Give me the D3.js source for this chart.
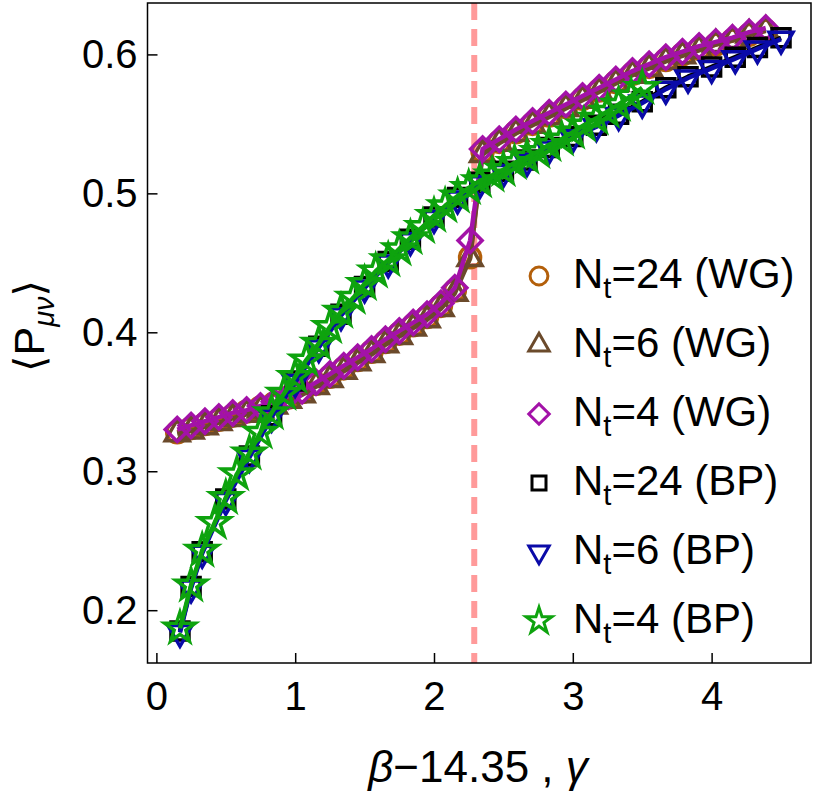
<!DOCTYPE html>
<html>
<head>
<meta charset="utf-8">
<script src="https://cdn.jsdelivr.net/npm/d3@7"></script>
<style>
  body { margin: 0; background: #fff; }
  svg text { font-family: "Liberation Sans", Arial, sans-serif; fill: #000; }
</style>
</head>
<body>
<svg id="chart" width="813" height="797"></svg>
<script>
// ---- data ----
const wgX = [0.15, 0.25, 0.35, 0.45, 0.55, 0.65, 0.75, 0.85, 0.95, 1.05, 1.15, 1.25, 1.35, 1.45,
  1.55, 1.65, 1.75, 1.85, 1.95, 2.05, 2.15, 2.26,
  2.35, 2.47, 2.59, 2.71, 2.83, 2.95, 3.07, 3.19, 3.31, 3.43, 3.55, 3.67, 3.79, 3.91, 4.03, 4.15, 4.27, 4.39];
const wg24 = [0.328, 0.331, 0.334, 0.337, 0.340, 0.343, 0.346, 0.349, 0.353, 0.357, 0.363, 0.368, 0.374, 0.380,
  0.386, 0.393, 0.399, 0.405, 0.411, 0.419, 0.430, 0.454,
  0.530, 0.537, 0.544, 0.550, 0.556, 0.562, 0.568, 0.574, 0.580, 0.586, 0.591, 0.596, 0.600, 0.604, 0.607, 0.610, 0.614, 0.617];
const wg6 = [0.327, 0.329, 0.332, 0.335, 0.338, 0.341, 0.344, 0.347, 0.351, 0.355, 0.361, 0.366, 0.372, 0.378,
  0.384, 0.391, 0.397, 0.403, 0.409, 0.417, 0.428, 0.453,
  0.528, 0.536, 0.543, 0.549, 0.555, 0.561, 0.567, 0.573, 0.579, 0.585, 0.590, 0.595, 0.599, 0.603, 0.607, 0.610, 0.614, 0.617];
const wg4 = [0.330, 0.333, 0.336, 0.339, 0.342, 0.344, 0.347, 0.350, 0.354, 0.358, 0.364, 0.370, 0.376, 0.382,
  0.388, 0.395, 0.401, 0.407, 0.413, 0.421, 0.432, 0.466,
  0.532, 0.539, 0.546, 0.552, 0.558, 0.564, 0.570, 0.576, 0.582, 0.588, 0.593, 0.598, 0.602, 0.606, 0.609, 0.612, 0.616, 0.619];

const bpX = [0.17, 0.25, 0.33, 0.50, 0.67, 0.83, 1.00, 1.17, 1.33, 1.50, 1.67, 1.83, 2.00, 2.17,
  2.33, 2.50, 2.67, 2.83, 3.00, 3.17, 3.33, 3.50, 3.67, 3.83, 4.00, 4.17, 4.33, 4.50];
const bp24 = [0.185, 0.217, 0.242, 0.280, 0.311, 0.340, 0.365, 0.390, 0.413, 0.433, 0.451, 0.467, 0.483, 0.497,
  0.508, 0.516, 0.524, 0.533, 0.541, 0.549, 0.557, 0.566, 0.576, 0.584, 0.591, 0.598, 0.605, 0.612];
const bp6 = [0.184, 0.216, 0.241, 0.279, 0.310, 0.339, 0.364, 0.389, 0.412, 0.432, 0.450, 0.466, 0.482, 0.496,
  0.507, 0.515, 0.523, 0.532, 0.540, 0.548, 0.556, 0.565, 0.575, 0.583, 0.590, 0.597, 0.604, 0.611];

const bp4X = [0.17, 0.25, 0.33, 0.42, 0.50, 0.58, 0.67, 0.75, 0.83, 0.92, 1.00, 1.08, 1.17, 1.25, 1.33, 1.42,
  1.50, 1.58, 1.67, 1.75, 1.83, 1.92, 2.00, 2.08, 2.17, 2.25, 2.33, 2.42, 2.50, 2.58, 2.67, 2.75, 2.83,
  2.92, 3.00, 3.08, 3.17, 3.25, 3.33, 3.42, 3.50];
const bp4 = [0.187, 0.218, 0.243, 0.263, 0.281, 0.298, 0.313, 0.328, 0.342, 0.356, 0.368, 0.380, 0.392, 0.404,
  0.415, 0.425, 0.435, 0.444, 0.452, 0.460, 0.468, 0.476, 0.484, 0.491, 0.498, 0.504, 0.509, 0.513, 0.517,
  0.522, 0.526, 0.530, 0.535, 0.539, 0.544, 0.549, 0.554, 0.559, 0.564, 0.570, 0.576];

const xTicks = [0, 1, 2, 3, 4];
const yTicks = [0.2, 0.3, 0.4, 0.5, 0.6];
const transitionX = 2.29;

const series = [
  { label: "=24 (WG)", xs: wgX, ys: wg24, shape: "circle", color: "#b35f0a" },
  { label: "=6 (WG)", xs: wgX, ys: wg6, shape: "triangle", color: "#6b4a2b" },
  { label: "=4 (WG)", xs: wgX, ys: wg4, shape: "diamond", color: "#a312a8" },
  { label: "=24 (BP)", xs: bpX, ys: bp24, shape: "square", color: "#000000" },
  { label: "=6 (BP)", xs: bpX, ys: bp6, shape: "triangleDown", color: "#0a0aa8" },
  { label: "=4 (BP)", xs: bp4X, ys: bp4, shape: "star", color: "#0ea30e" }
];

// ---- layout ----
const svg = d3.select("#chart");
const plotLeft = 147.5, plotRight = 811, plotTop = 3, plotBottom = 663;

const x = d3.scaleLinear().domain([-0.064, 4.716]).range([plotLeft, plotRight]);
const y = d3.scaleLinear().domain([0.162, 0.637]).range([plotBottom, plotTop]);

// marker path for a shape, big = data marker, else legend marker
function markerPath(shape, big) {
  const k = big ? 1 : 0.85;
  const tri = s => { const h = s / (2 * Math.sqrt(3)); return h * h * 3 * Math.sqrt(3); };
  switch (shape) {
    case "circle": return d3.symbol(d3.symbolCircle, Math.PI * Math.pow(10.5 * k, 2))();
    case "triangle": return d3.symbol(d3.symbolTriangle, tri(24 * k))();
    case "triangleDown": return d3.symbol(d3.symbolTriangle, tri(24 * k))();
    case "diamond": return d3.symbol(d3.symbolSquare, Math.pow(17 * k, 2))();
    case "square": return d3.symbol(d3.symbolSquare, Math.pow(big ? 18 : 14, 2))();
    case "star": return d3.symbol(d3.symbolStar, Math.pow(16 * k, 2) / 0.8908130915292852)();
  }
}
function markerRotate(shape) {
  if (shape === "diamond") return 45;
  if (shape === "triangleDown") return 180;
  return 0;
}

// dashed transition line
svg.append("line")
    .attr("x1", x(transitionX)).attr("x2", x(transitionX))
    .attr("y1", plotTop).attr("y2", plotBottom)
    .attr("stroke", "#ff9a9a")
    .attr("stroke-width", 6)
    .attr("stroke-dasharray", "17,9");

const plot = svg.append("g");
const line = d3.line().x(d => x(d[0])).y(d => y(d[1]));

series.forEach(s => {
  const pts = s.xs.map((v, i) => [v, s.ys[i]]);
  const g = plot.append("g");
  g.append("path")
      .attr("d", line(pts))
      .attr("fill", "none")
      .attr("stroke", s.color)
      .attr("stroke-width", 4.5)
      .attr("stroke-linejoin", "round");
  g.selectAll("path.m")
      .data(pts)
      .enter()
    .append("path")
      .attr("class", "m")
      .attr("d", markerPath(s.shape, true))
      .attr("transform", d => `translate(${x(d[0])},${y(d[1])}) rotate(${markerRotate(s.shape)})`)
      .attr("fill", "none")
      .attr("stroke", s.color)
      .attr("stroke-width", 3.5);
});

// axes (ticks inside, no domain line)
const xAxis = svg.append("g")
    .attr("transform", `translate(0,${plotBottom})`)
    .call(d3.axisBottom(x).tickValues(xTicks).tickSize(-10).tickPadding(19).tickFormat(d3.format("d")));
const yAxis = svg.append("g")
    .attr("transform", `translate(${plotLeft},0)`)
    .call(d3.axisLeft(y).tickValues(yTicks).tickSize(-10).tickPadding(10).tickFormat(d3.format(".1f")));
[xAxis, yAxis].forEach(a => {
  a.select(".domain").remove();
  a.selectAll(".tick line").attr("stroke", "#000").attr("stroke-width", 1.5);
  a.selectAll(".tick text").attr("font-size", 40).attr("font-family", "Liberation Sans, Arial, sans-serif");
});

// frame
svg.append("rect")
    .attr("x", plotLeft).attr("y", plotTop)
    .attr("width", plotRight - plotLeft).attr("height", plotBottom - plotTop)
    .attr("fill", "none").attr("stroke", "#000").attr("stroke-width", 1.5);

// axis titles
const xt = svg.append("text")
    .attr("x", 478).attr("y", 782)
    .attr("text-anchor", "middle")
    .attr("font-size", 44);
xt.append("tspan").attr("font-style", "italic").text("β");
xt.append("tspan").text("\u221214.35 , ");
xt.append("tspan").attr("font-style", "italic").text("γ");

const yt = svg.append("text")
    .attr("transform", "translate(44,326) rotate(-90)")
    .attr("text-anchor", "middle")
    .attr("font-size", 43);
yt.append("tspan").attr("font-family", "DejaVu Sans").attr("font-size", 42).text("\u27e8");
yt.append("tspan").text("P");
yt.append("tspan").attr("font-style", "italic").attr("font-size", 29).attr("dy", 10).text("μν");
yt.append("tspan").attr("font-family", "DejaVu Sans").attr("font-size", 42).attr("dy", -10).text("\u27e9");

// legend
const legend = svg.append("g");
series.forEach((s, i) => {
  const ly = 276 + i * 69;
  legend.append("path")
      .attr("d", markerPath(s.shape, false))
      .attr("transform", `translate(539,${ly}) rotate(${markerRotate(s.shape)})`)
      .attr("fill", "none")
      .attr("stroke", s.color)
      .attr("stroke-width", 3);
  const t = legend.append("text")
      .attr("x", 573).attr("y", ly + 12)
      .attr("font-size", 42);
  t.append("tspan").text("N");
  t.append("tspan").attr("font-size", 29).attr("dy", 10).text("t");
  t.append("tspan").attr("dy", -10).text(s.label);
});
</script>
</body>
</html>
